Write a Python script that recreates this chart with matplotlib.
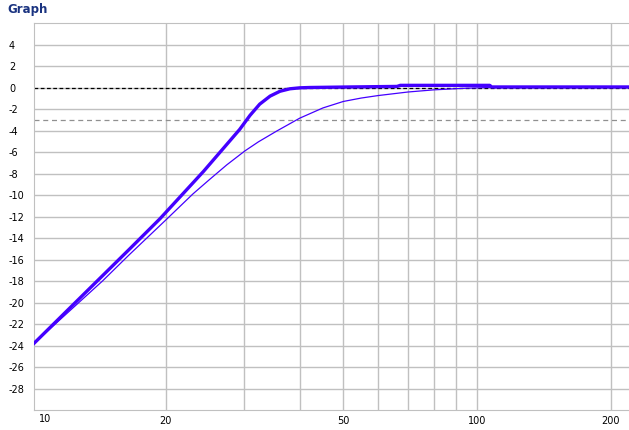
import matplotlib.pyplot as plt
from matplotlib.transforms import blended_transform_factory

# values (frequency in Hz, level in dB)
thick_f = [10.1, 16.5, 19.4, 24.3, 29.3, 30.9, 32.5, 34.3, 36.1, 38.0, 40.0, 42.1,
           51.9, 66.2, 67.3, 107, 108, 220]
thick_db = [-23.8, -15.1, -12.2, -7.8, -3.9, -2.6, -1.55, -0.8, -0.35, -0.12, -0.03, 0.0,
            0.05, 0.1, 0.2, 0.2, 0.05, 0.05]

thin_f = [10.1, 14.4, 16.5, 19.9, 23.0, 25.0, 27.4, 30.1, 32.3, 35.5, 40.0, 45.1,
          50.1, 55.0, 60.0, 70.0, 80.0, 95.0, 107, 220]
thin_db = [-23.8, -18.0, -15.6, -12.4, -9.9, -8.6, -7.2, -5.9, -5.05, -4.05, -2.85, -1.9,
           -1.3, -0.98, -0.75, -0.42, -0.22, -0.06, 0.0, 0.0]

yticks = list(range(-28, 5, 2))
xticks = [20, 50, 100, 200]
xminor = [30, 40, 60, 70, 80, 90]

W, H = 629, 430
fig = plt.figure(figsize=(W / 100, H / 100), dpi=100)
ax = fig.add_axes([34 / W, 20 / H, (W - 34) / W, (410 - 23) / H])

ax.set_xscale('log')
ax.set_xlim(10.1, 220)
ax.set_ylim(-30, 6)

grid_c = '#c0c0c0'
ax.set_yticks(yticks)
ax.set_yticklabels([str(v) for v in yticks])
ax.set_xticks(xticks)
ax.set_xticklabels([str(v) for v in xticks])
ax.set_xticks(xminor, minor=True)
ax.set_xticklabels([], minor=True)
ax.grid(True, which='both', color=grid_c, linewidth=1)
ax.set_axisbelow(True)

ax.tick_params(axis='both', which='both', length=0, labelsize=7, colors='black')
ax.tick_params(axis='y', pad=18)
ax.tick_params(axis='x', pad=4)
for lab in ax.get_yticklabels():
    lab.set_horizontalalignment('left')

for side in ['left', 'bottom', 'top']:
    ax.spines[side].set_color(grid_c)
ax.spines['right'].set_visible(False)

# reference lines
ax.axhline(0, color='black', linestyle=(0, (3, 2)), linewidth=0.9, zorder=2)
ax.axhline(-3, color='#909090', linestyle=(0, (4, 3)), linewidth=0.9, zorder=2)

blue = '#4400ff'
ax.plot(thin_f, thin_db, color=blue, linewidth=0.9, zorder=3)
ax.plot(thick_f, thick_db, color=blue, linewidth=2.4, zorder=4,
        solid_joinstyle='round')

# "10" label sits just inside the left edge
tr = blended_transform_factory(ax.transAxes, ax.transAxes)
ax.text(11 / (W - 34), -9 / (410 - 23), '10', transform=tr, fontsize=7,
        ha='center', va='center')

fig.text(7 / W, 1 - 10 / H, 'Graph', fontsize=8.5, fontweight='bold',
         color='#1a3380', ha='left', va='center')

fig.savefig('out.png', dpi=100)
